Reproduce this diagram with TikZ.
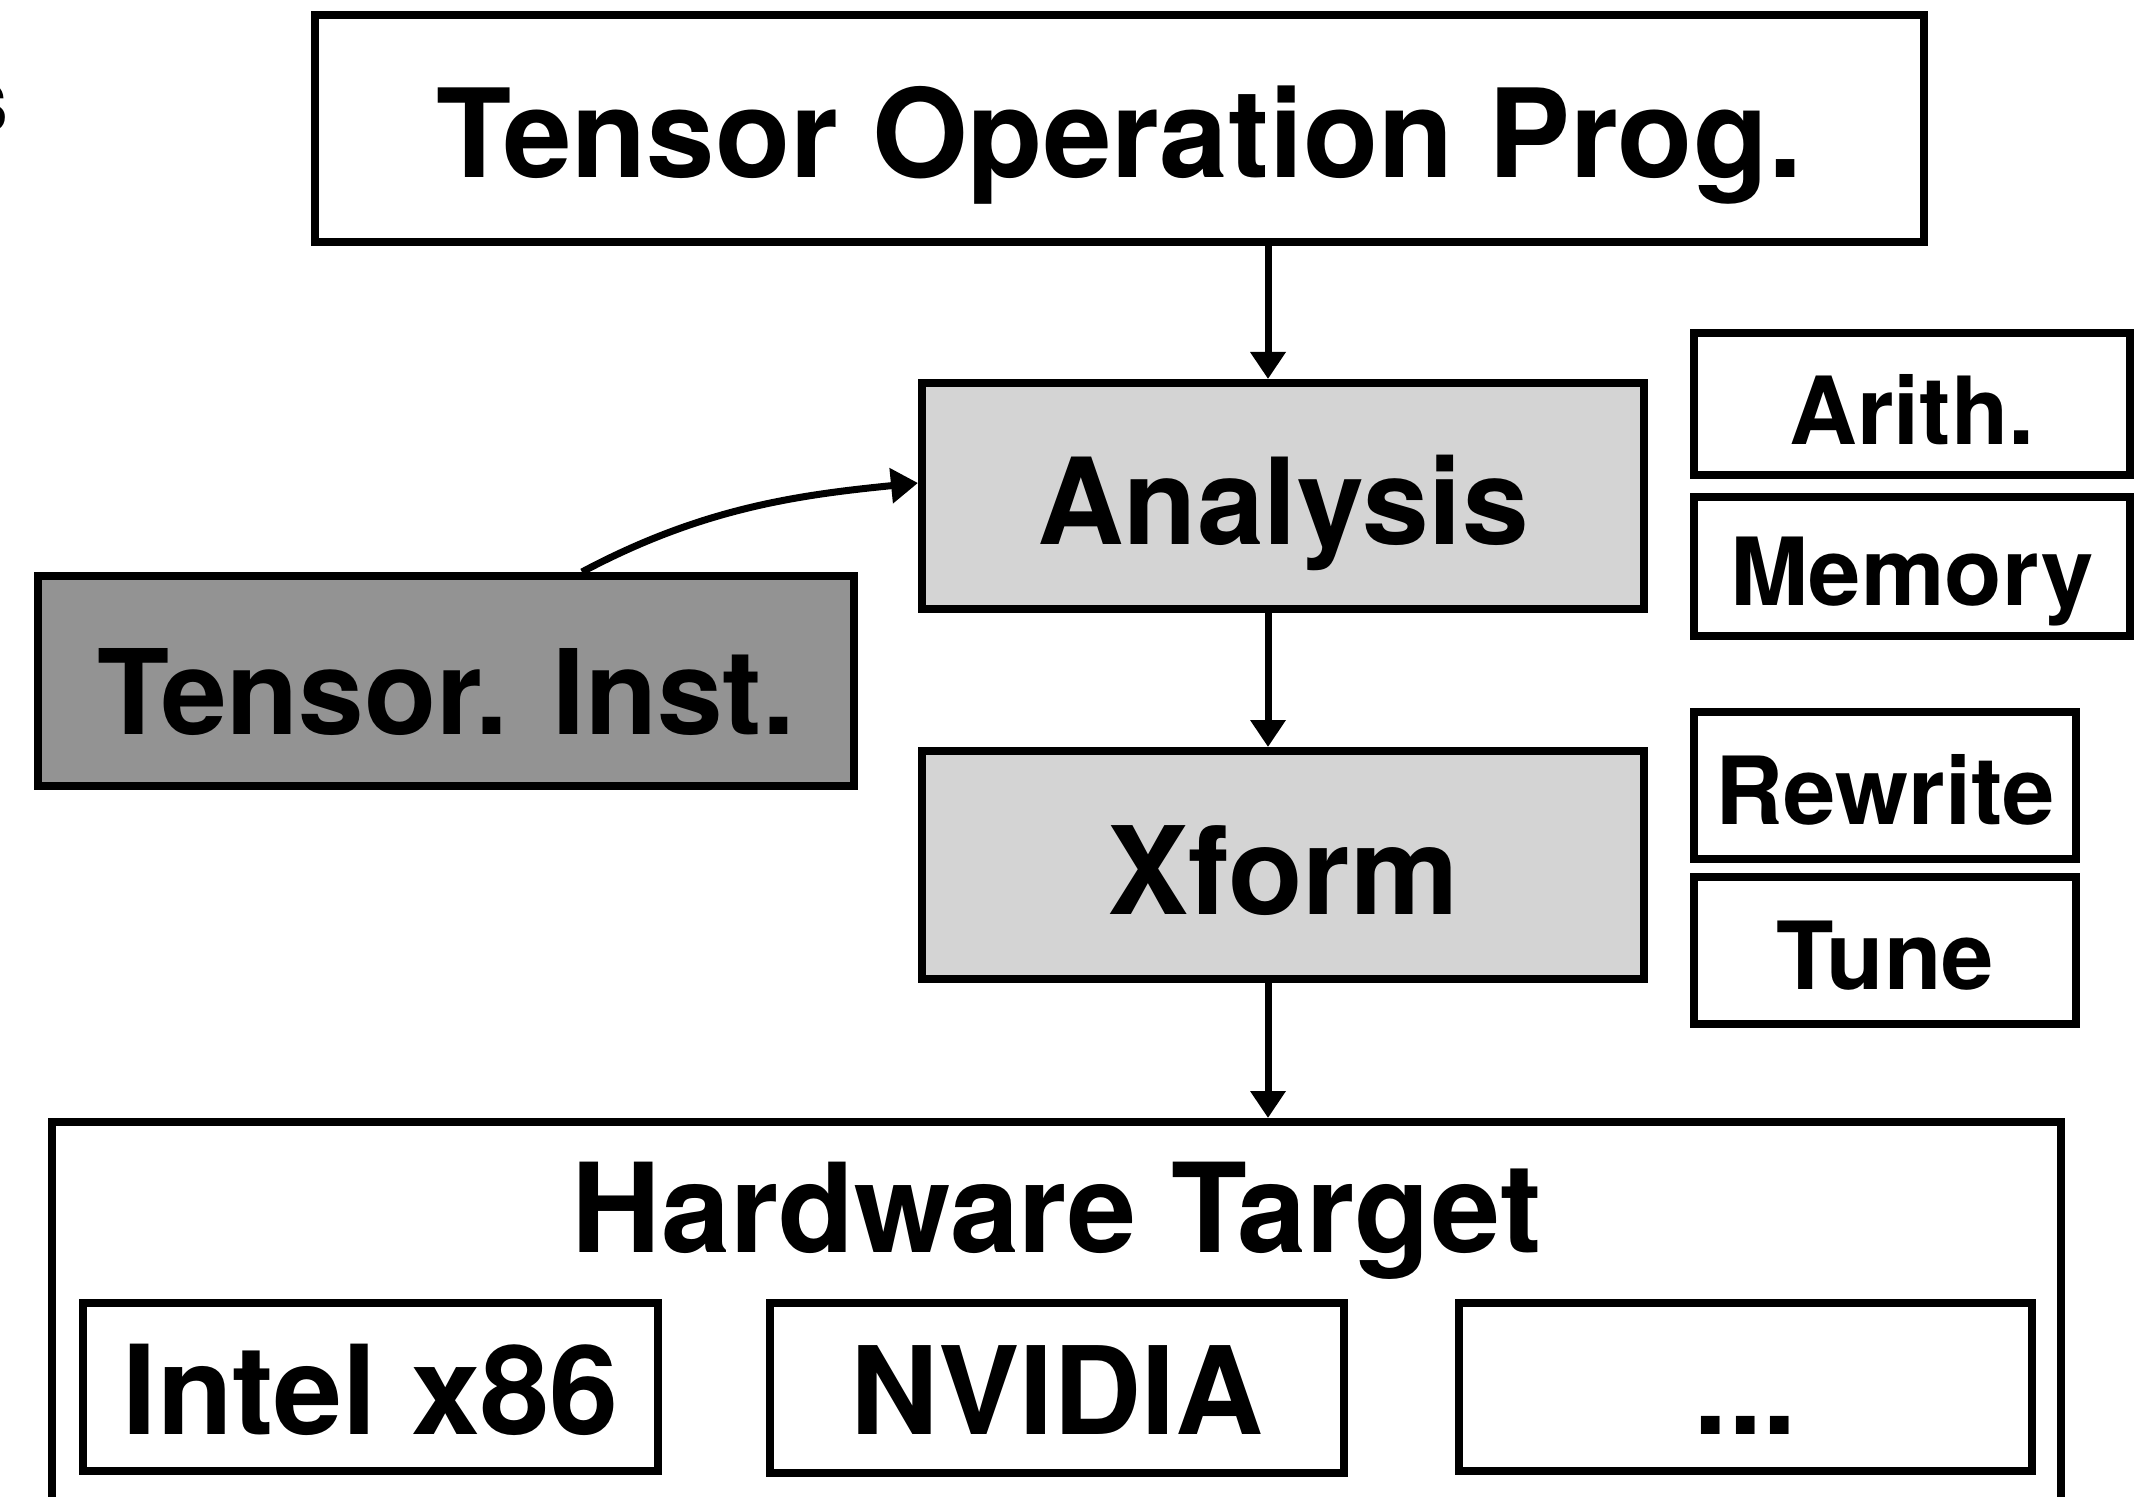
\documentclass[tikz,border=0pt]{standalone}
\usepackage{fontspec}
\setmainfont{TeX Gyre Heros}
\usetikzlibrary{arrows.meta}
\definecolor{lightfill}{HTML}{D4D4D4}
\definecolor{darkfill}{HTML}{939393}
\newcommand{\fs}[1]{\fontsize{#1}{#1}\bfseries\selectfont}
\begin{document}
\begin{tikzpicture}[x=0.5pt,y=-0.5pt,
  box/.style={draw=black, line width=4pt, inner sep=0pt, anchor=base, align=center},
  arr/.style={line width=3.5pt, -{Triangle[length=13.5pt,width=17pt]}},
  smallfont/.style={font=\fs{47}},
]
\useasboundingbox (0,0) rectangle (2146,1497);
\node[anchor=base east, inner sep=0pt, font=\fs{46}] (frag) at (9,133) {s};
\node[box, font=\fs{61.5}, minimum width=804.5pt, text height=81.5pt, text depth=32pt] (prog) at (1119.5,178) {Tensor Operation Prog.};
\node[box, font=\fs{60}, fill=lightfill, minimum width=361pt, text height=81pt, text depth=32pt] (analysis) at (1283,545) {Analysis};
\node[box, font=\fs{61}, fill=lightfill, minimum width=361pt, text height=81.5pt, text depth=32.5pt] (xform) at (1283,914) {Xform};
\node[box, font=\fs{59}, fill=darkfill, minimum width=408pt, text height=79pt, text depth=26pt] (inst) at (446,734) {Tensor. Inst.};
\node[box, smallfont, minimum width=218pt, text height=56pt, text depth=15pt] (arith) at (1912,445) {Arith.};
\node[box, smallfont, minimum width=218pt, text height=54pt, text depth=15.5pt] (memory) at (1912,605) {Memory};
\node[box, smallfont, minimum width=191pt, text height=56pt, text depth=17.5pt] (rewrite) at (1885,824) {Rewrite};
\node[box, smallfont, minimum width=191pt, text height=56pt, text depth=17.5pt] (tune) at (1885,989) {Tune};
\node[box, font=\fs{62}, minimum width=1004.5pt, text height=65pt, text depth=139pt] (hw) at (1056.5,1252) {Hardware Target};
\node[box, font=\fs{62}, minimum width=287.5pt, text height=65.5pt, text depth=18.5pt] (intel) at (370.5,1434) {Intel x86};
\node[box, font=\fs{61}, minimum width=287pt, text height=65.5pt, text depth=19.5pt] (nvidia) at (1057,1434) {NVIDIA};
\node[box, font=\fs{62}, minimum width=286.5pt, text height=65.5pt, text depth=18.5pt] (dots) at (1745.5,1434) {...};
\coordinate (ax) at (1268,0);
\draw[arr] (prog.south -| ax) -- (analysis.north -| ax);
\draw[arr] (analysis.south -| ax) -- (xform.north -| ax);
\draw[arr] (xform.south -| ax) -- (hw.north -| ax);
\draw[arr] ([xshift=274pt]inst.north west) .. controls +(120,-64) and +(-120,12) .. ([yshift=6.5pt]analysis.west);
\end{tikzpicture}
\end{document}
